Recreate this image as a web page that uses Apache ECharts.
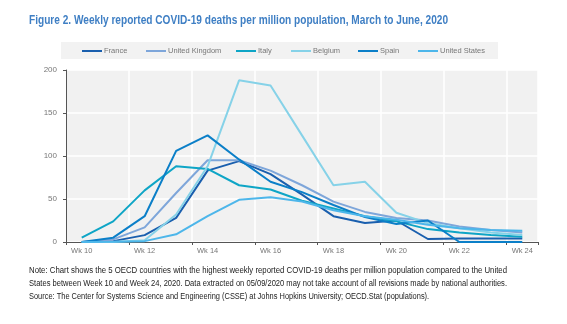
<!DOCTYPE html>
<html><head><meta charset="utf-8">
<script src="https://cdn.jsdelivr.net/npm/echarts@6/dist/echarts.min.js"></script>
<style>html,body{margin:0;padding:0;background:#fff;}#c{width:567px;height:324px;}</style>
</head><body><div id="c"></div>
<script>
const weeks = ['Wk 10','Wk 11','Wk 12','Wk 13','Wk 14','Wk 15','Wk 16','Wk 17','Wk 18','Wk 19','Wk 20','Wk 21','Wk 22','Wk 23','Wk 24'];
const france  = [0, 1, 8, 28, 83, 94, 79, 55, 30, 22, 25, 3.5, 4, 4, 4];
const uk      = [0, 3, 17, 57, 95, 95, 83, 66, 47, 35, 28, 25, 18, 14, 11];
const italy   = [5, 24, 60, 88, 85, 66, 61, 48, 39, 30, 24, 15, 11, 8, 6];
const belgium = [0, 0, 2, 32, 88, 188, 182, 124, 66, 70, 34, 22, 16, 11, 8];
const spain   = [0, 5, 30, 106, 124, 96, 70, 58, 43, 29, 21, 25, 0, 0, 0];
const us      = [0, 0.2, 1, 9, 30, 49, 52, 47, 37, 30, 26, 20, 16, 14, 13];
const names = ['France','United Kingdom','Italy','Belgium','Spain','United States'];
const values = [france, uk, italy, belgium, spain, us];
const colors = ['#1a5fae','#7ea6da','#0ea5c6','#86d2e8','#0b7fc8','#4db6ea'];
const title = 'Figure 2. Weekly reported COVID-19 deaths per million population, March to June, 2020';
const notes = [
 'Note: Chart shows the 5 OECD countries with the highest weekly reported COVID-19 deaths per million population compared to the United',
 'States between Week 10 and Week 24, 2020. Data extracted on 05/09/2020 may not take account of all revisions made by national authorities.',
 'Source: The Center for Systems Science and Engineering (CSSE) at Johns Hopkins University; OECD.Stat (populations).'
];
const FF = 'Liberation Sans, Arial, sans-serif';
const ctx = document.createElement('canvas').getContext('2d');
function measure(t, font){ ctx.font = font; return ctx.measureText(t).width; }
const titleFont = 'bold 12px ' + FF;
const noteFont = '8.5px ' + FF;
const noteWidths = [478, 478, null];
const noteScaleDefault = 0.875;
const legendLefts = [82, 146, 236, 291, 358, 418];

const graphics = [
  {type:'rect', left:61, top:42, shape:{width:437, height:17}, style:{fill:'#f2f2f2'}, z:-1},
  {type:'text', x:29, y:21, scaleX: 419/measure(title, titleFont),
    style:{text:title, font:titleFont, fill:'#3f7fc4', textVerticalAlign:'middle'}}
];
notes.forEach((t,i)=>{
  const w = measure(t, noteFont);
  const sx = noteWidths[i] ? noteWidths[i]/w : noteScaleDefault;
  graphics.push({type:'text', x:29, y:271+i*13, scaleX:sx,
    style:{text:t, font:noteFont, fill:'#222', textVerticalAlign:'middle'}});
});

const chart = echarts.init(document.getElementById('c'), null, {renderer:'canvas'});
chart.setOption({
  animation:false,
  color: colors,
  graphic: graphics,
  legend: names.map((n,i)=>({left:legendLefts[i], top:47, itemWidth:20, itemHeight:2, icon:'rect', padding:0,
    textStyle:{fontFamily:FF, fontSize:7.5, color:'#777', padding:[0,0,0,-3]}, data:[n]})),
  grid:{left:66, right:29, top:70, bottom:82, show:true, backgroundColor:'#f1f1f1', borderWidth:0},
  xAxis:{type:'category', data:weeks, boundaryGap:true,
    axisLine:{lineStyle:{color:'#555', width:1}},
    axisTick:{show:true, interval:1, length:3, lineStyle:{color:'#555'}},
    axisLabel:{interval:1, fontFamily:FF, fontSize:7.5, color:'#777', margin:5},
    splitLine:{show:true, interval:1, lineStyle:{color:'#fff', width:1.5}}},
  yAxis:{type:'value', min:0, max:200, interval:50,
    axisLine:{show:true, lineStyle:{color:'#555', width:1}},
    axisTick:{show:true, length:3, lineStyle:{color:'#555'}},
    axisLabel:{fontFamily:FF, fontSize:8, color:'#777', margin:9},
    splitLine:{show:true, lineStyle:{color:'#fff', width:1.5}}},
  series: names.map((n,i)=>({name:n, type:'line', data:values[i], showSymbol:false, symbol:'none',
    lineStyle:{width:2, color:colors[i]}, itemStyle:{color:colors[i]}}))
});
</script></body></html>
